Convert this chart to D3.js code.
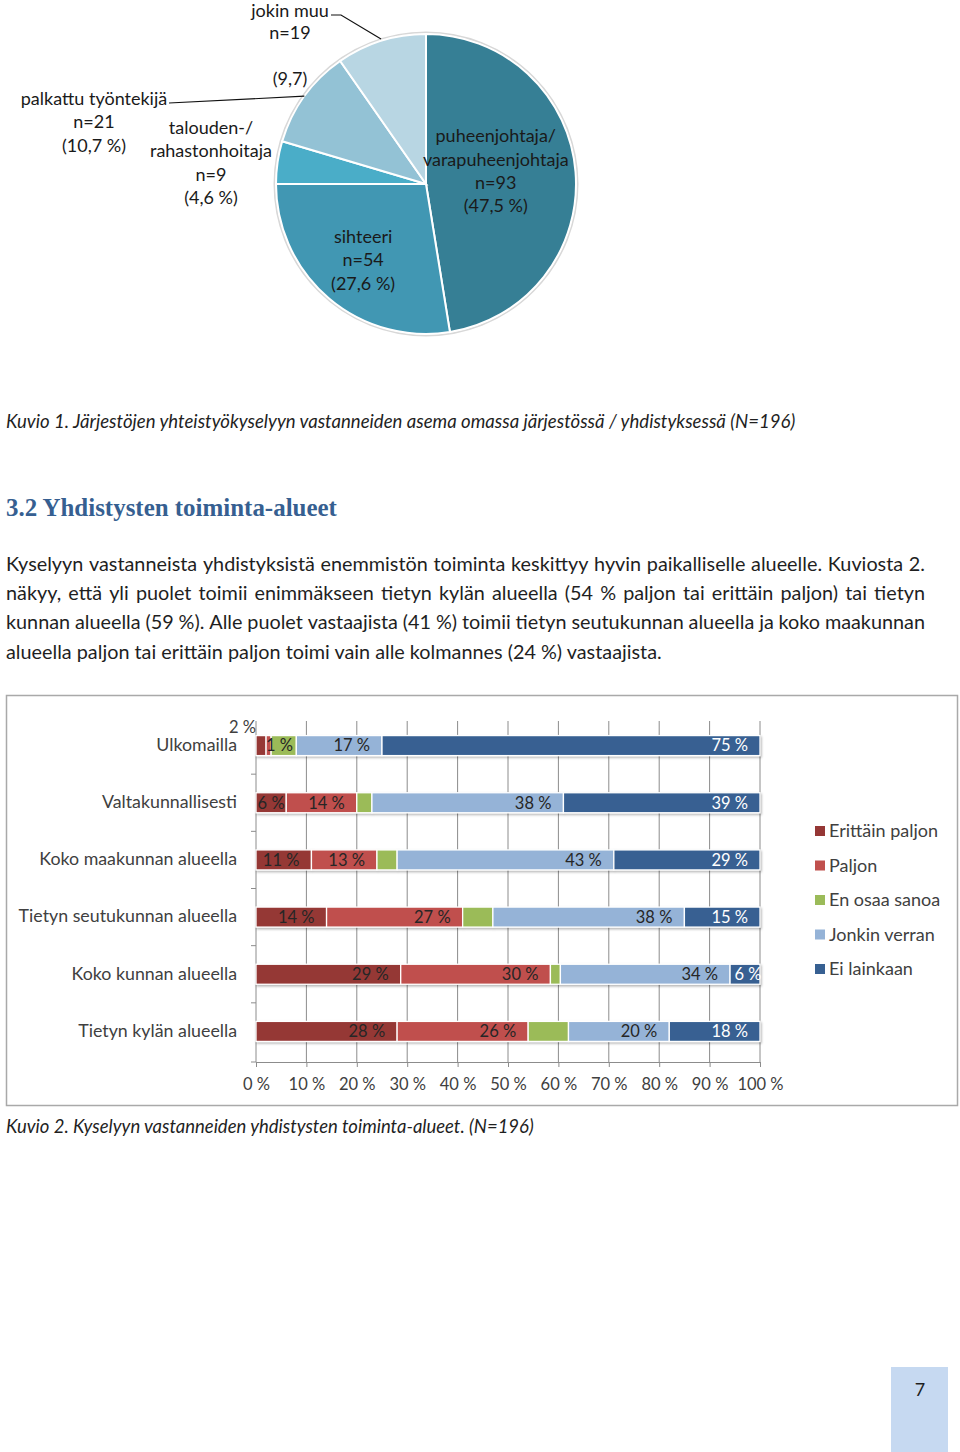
<!DOCTYPE html>
<html><head><meta charset="utf-8">
<script src="https://cdn.jsdelivr.net/npm/d3@7"></script>
<style>
html,body{margin:0;padding:0;background:#fff;}
svg{display:block;}
</style>
</head><body>
<svg id="page" width="960" height="1452"></svg>
<script>
// ---------- DATA ----------
const pieRoles = ["puheenjohtaja/varapuheenjohtaja","sihteeri","talouden-/rahastonhoitaja","palkattu työntekijä","jokin muu"];
const pieCounts = [93, 54, 9, 21, 19];
const piePercents = ["47,5 %", "27,6 %", "4,6 %", "10,7 %", "9,7"];
const pieColors = ["#367f95", "#4197b3", "#4aadc8", "#93c2d5", "#b8d6e3"];

const categories = ["Ulkomailla","Valtakunnallisesti","Koko maakunnan alueella","Tietyn seutukunnan alueella","Koko kunnan alueella","Tietyn kylän alueella"];
const seriesNames = ["Erittäin paljon","Paljon","En osaa sanoa","Jonkin verran","Ei lainkaan"];
const erittainPaljon = [2, 6, 11, 14, 29, 28];
const paljon         = [1, 14, 13, 27, 30, 26];
const enOsaaSanoa    = [5, 3, 4, 6, 2, 8];
const jonkinVerran   = [17, 38, 43, 38, 34, 20];
const eiLainkaan     = [75, 39, 29, 15, 6, 18];
const seriesColors = ["#953735", "#c0504d", "#9bbb59", "#95b3d7", "#376092"];
const seriesLabelled = [true, true, false, true, true];
const xTicks = [0,10,20,30,40,50,60,70,80,90,100];

const caption1 = "Kuvio 1. Järjestöjen yhteistyökyselyyn vastanneiden asema omassa järjestössä / yhdistyksessä (N=196)";
const heading = "3.2 Yhdistysten toiminta-alueet";
const bodyLines = [
 "Kyselyyn vastanneista yhdistyksistä enemmistön toiminta keskittyy hyvin paikalliselle alueelle. Kuviosta 2.",
 "näkyy, että yli puolet toimii enimmäkseen tietyn kylän alueella (54 % paljon tai erittäin paljon) tai tietyn",
 "kunnan alueella (59 %). Alle puolet vastaajista (41 %) toimii tietyn seutukunnan alueella ja koko maakunnan",
 "alueella paljon tai erittäin paljon toimi vain alle kolmannes (24 %) vastaajista."
];
const caption2 = "Kuvio 2. Kyselyyn vastanneiden yhdistysten toiminta-alueet. (N=196)";
const pageNumber = "7";

// ---------- HELPERS ----------
const svg = d3.select("#page");
const FONT = "Lato, 'Open Sans', sans-serif";
function fitWidth(t, target){
  const n = t.node(); const fs = parseFloat(t.attr("font-size"));
  const w = n.getComputedTextLength();
  t.attr("font-size", (fs*target/w).toFixed(3));
}

// ---------- PIE ----------
const pieG = svg.append("g").attr("transform","translate(426,184)");
const R = 150;
const pie = d3.pie().sort(null).value(d=>d)(pieCounts);
const arc = d3.arc().innerRadius(0).outerRadius(R);
pieG.append("circle").attr("r",R+1.5).attr("fill","none").attr("stroke","#d8d8d8").attr("stroke-width",2);
pieG.selectAll("path.slice").data(pie).join("path")
  .attr("class","slice").attr("d",arc)
  .attr("fill",(d,i)=>pieColors[i]).attr("stroke","#fff").attr("stroke-width",2);

const pieTextColor = "#1a1a1a";
function multiline(g, x, y, lines, step, anchor){
  const t = g.append("text").attr("x",x).attr("y",y).attr("font-family",FONT)
    .attr("font-size",18).attr("fill",pieTextColor).attr("text-anchor",anchor||"middle");
  lines.forEach((l,i)=>t.append("tspan").attr("x",x).attr("dy", i===0?0:step).text(l));
  return t;
}
// in-slice labels (positioned along slice centroids)
const cIn0 = d3.arc().innerRadius(0).outerRadius(140).centroid(pie[0]);
multiline(pieG, cIn0[0], cIn0[1]-36, ["puheenjohtaja/","varapuheenjohtaja","n="+pieCounts[0],"("+piePercents[0]+")"], 23.3);
const cIn1 = d3.arc().innerRadius(0).outerRadius(194).centroid(pie[1]);
multiline(pieG, cIn1[0], cIn1[1]-15, ["sihteeri","n="+pieCounts[1],"("+piePercents[1]+")"], 23.4);
// outside labels
multiline(svg, 211, 134, ["talouden-/","rahastonhoitaja","n="+pieCounts[2],"("+piePercents[2]+")"], 23.3);
multiline(svg, 94, 105, ["palkattu työntekijä","n="+pieCounts[3],"("+piePercents[3]+")"], 23.3);
multiline(svg, 290, 17, ["jokin muu","n="+pieCounts[4]], 22);
multiline(svg, 290, 85, ["("+piePercents[4]+")"], 23.3);
// leader lines to slice edges
function edgePt(d){ const a=(d.startAngle+d.endAngle)/2; return [426+R*Math.sin(a), 184-R*Math.cos(a)]; }
const e4 = edgePt(pie[4]), e3 = edgePt(pie[3]);
svg.append("path").attr("d",`M331,15 L341,15 L${e4[0]},${e4[1]-2}`).attr("fill","none").attr("stroke","#111").attr("stroke-width",1.2);
svg.append("path").attr("d",`M169,103 L${e3[0]},${e3[1]}`).attr("fill","none").attr("stroke","#111").attr("stroke-width",1.2);

// ---------- CAPTIONS & TEXT ----------
const cap1 = svg.append("text").attr("x",6).attr("y",428).attr("font-family",FONT).attr("font-style","italic")
  .attr("font-size",16).attr("fill","#1f1f1f").text(caption1);
fitWidth(cap1, 790);

const head = svg.append("text").attr("x",6).attr("y",516).attr("font-family","'Liberation Serif', serif").attr("font-weight","bold")
  .attr("font-size",22).attr("fill","#365f91").text(heading);
fitWidth(head, 331);

// body: measure last line for font size, justify others
const bodyG = svg.append("g").attr("font-family",FONT).attr("fill","#1f1f1f");
const probe = bodyG.append("text").attr("font-size",17).text(bodyLines[3]);
fitWidth(probe, 656);
const bodyFs = parseFloat(probe.attr("font-size"));
probe.remove();
const lineY = [571, 600, 629, 659];
bodyLines.forEach((line,li)=>{
  if(li===bodyLines.length-1){
    bodyG.append("text").attr("x",6).attr("y",lineY[li]).attr("font-size",bodyFs).text(line);
    return;
  }
  const words = line.split(" ");
  const ws = words.map(w=>{ const t=bodyG.append("text").attr("font-size",bodyFs).text(w); const len=t.node().getComputedTextLength(); t.remove(); return len; });
  const total = d3.sum(ws); const gap = (919-total)/(words.length-1);
  let x = 6;
  words.forEach((w,i)=>{ bodyG.append("text").attr("x",x).attr("y",lineY[li]).attr("font-size",bodyFs).text(w); x += ws[i]+gap; });
});

const cap2 = svg.append("text").attr("x",6).attr("y",1133).attr("font-family",FONT).attr("font-style","italic")
  .attr("font-size",16).attr("fill","#1f1f1f").text(caption2);
fitWidth(cap2, 528);

// ---------- BAR CHART ----------
svg.append("rect").attr("x",6.5).attr("y",695.5).attr("width",951).attr("height",410)
  .attr("fill","#fff").attr("stroke","#a9a9a9").attr("stroke-width",1.5);

const defs = svg.append("defs");
const f = defs.append("filter").attr("id","shadow").attr("x","-5%").attr("y","-30%").attr("width","110%").attr("height","170%");
f.append("feDropShadow").attr("dx",1).attr("dy",1.5).attr("stdDeviation",0.8).attr("flood-color","#000").attr("flood-opacity",0.3);

const x = d3.scaleLinear().domain([0,1]).range([256,760]);
const y = d3.scaleBand().domain(categories).range([717,1060]).paddingInner(0.65).paddingOuter(0.325);
const bandStep = y.step();

const rows = categories.map((c,i)=>({cat:c, s0:erittainPaljon[i], s1:paljon[i], s2:enOsaaSanoa[i], s3:jonkinVerran[i], s4:eiLainkaan[i]}));
const stack = d3.stack().keys(["s0","s1","s2","s3","s4"]).offset(d3.stackOffsetExpand)(rows);
const raw = [erittainPaljon, paljon, enOsaaSanoa, jonkinVerran, eiLainkaan];

// gridlines
const gridTop = 721, gridBot = 1062;
svg.append("g").selectAll("line").data(xTicks.slice(1)).join("line")
  .attr("x1",d=>x(d/100)).attr("x2",d=>x(d/100)).attr("y1",gridTop).attr("y2",gridBot)
  .attr("stroke","#8c8c8c").attr("stroke-width",1);

// x axis
const xAxis = d3.axisBottom(x).tickValues(xTicks.map(d=>d/100)).tickSize(5).tickFormat(d=>Math.round(d*100)+" %");
const xg = svg.append("g").attr("transform",`translate(0,${gridBot})`).call(xAxis);
xg.select(".domain").attr("stroke","#8c8c8c");
xg.selectAll(".tick line").attr("stroke","#8c8c8c");
xg.selectAll(".tick text").attr("font-family",FONT).attr("font-size",16.5).attr("fill","#404040").attr("dy","1.2em");

// y axis line with boundary ticks
svg.append("line").attr("x1",256).attr("x2",256).attr("y1",gridTop).attr("y2",gridBot).attr("stroke","#8c8c8c");
const boundaries = categories.slice(1).map(c=>y(c)-(bandStep-y.bandwidth())/2);
svg.append("g").selectAll("line").data(boundaries.concat([gridBot])).join("line")
  .attr("x1",251).attr("x2",256).attr("y1",d=>d).attr("y2",d=>d).attr("stroke","#8c8c8c");

// category labels
svg.append("g").selectAll("text").data(categories).join("text")
  .attr("x",237).attr("y",d=>y(d)+y.bandwidth()/2).attr("dy","0.3em")
  .attr("text-anchor","end").attr("font-family",FONT).attr("font-size",17.8).attr("fill","#404040").text(d=>d);

// bars
const barsG = svg.append("g").attr("filter","url(#shadow)");
stack.forEach((layer,si)=>{
  barsG.selectAll(null).data(layer).join("rect")
    .attr("x",d=>x(d[0])).attr("width",d=>Math.max(0,x(d[1])-x(d[0])))
    .attr("y",d=>y(d.data.cat)).attr("height",y.bandwidth())
    .attr("fill",seriesColors[si]).attr("stroke","#fff").attr("stroke-width",1.3);
});

// value labels
const labG = svg.append("g").attr("font-family",FONT).attr("font-size",16.5);
stack.forEach((layer,si)=>{
  if(!seriesLabelled[si]) return;
  layer.forEach((d,ri)=>{
    const x0 = x(d[0]), x1 = x(d[1]), w = x1-x0;
    const cy = y(d.data.cat)+y.bandwidth()/2;
    const txt = raw[si][ri]+" %";
    const col = si===4 ? "#ffffff" : "#262626";
    if(w < 14){
      if(si===0){
        labG.append("text").attr("x",x0).attr("y",cy-y.bandwidth()/2-3).attr("text-anchor","end").attr("fill","#404040").text(txt);
      } else {
        labG.append("text").attr("x",x0).attr("y",cy).attr("dy","0.35em").attr("text-anchor","start").attr("fill",col).text(txt);
      }
    } else if(w < 44){
      labG.append("text").attr("x",(x0+x1)/2 + (si===4?3:0)).attr("y",cy).attr("dy","0.35em").attr("text-anchor","middle").attr("fill",col).text(txt);
    } else {
      labG.append("text").attr("x",x1-12).attr("y",cy).attr("dy","0.35em").attr("text-anchor","end").attr("fill",col).text(txt);
    }
  });
});

// legend
const lg = svg.append("g").attr("transform","translate(815,831)");
seriesNames.forEach((n,i)=>{
  const g = lg.append("g").attr("transform",`translate(0,${i*34.5})`);
  g.append("rect").attr("x",0).attr("y",-5).attr("width",10).attr("height",10).attr("fill",seriesColors[i]);
  g.append("text").attr("x",14).attr("y",0).attr("dy","0.35em").attr("font-family",FONT).attr("font-size",18).attr("fill","#404040").text(n);
});

// ---------- PAGE NUMBER ----------
svg.append("rect").attr("x",891).attr("y",1367).attr("width",57).attr("height",85).attr("fill","#c6d9f1");
svg.append("text").attr("x",920).attr("y",1390).attr("dy","0.35em").attr("text-anchor","middle")
  .attr("font-family",FONT).attr("font-size",18).attr("fill","#1f1f1f").text(pageNumber);
</script>
</body></html>
